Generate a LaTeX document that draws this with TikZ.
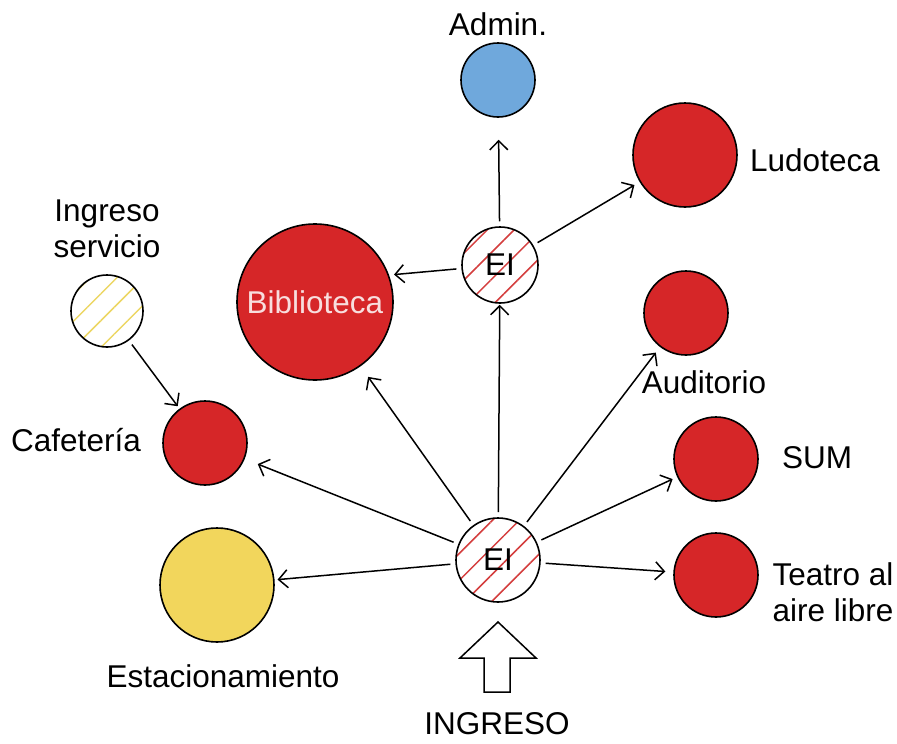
\documentclass[tikz,border=0pt]{standalone}
\usepackage{fontspec}
\setmainfont{Liberation Sans}
\usetikzlibrary{arrows.meta,patterns.meta}
\definecolor{zred}{RGB}{214,38,40}
\definecolor{zblue}{RGB}{111,168,220}
\definecolor{zyellow}{RGB}{242,214,92}
\definecolor{hatchred}{RGB}{212,62,62}
\definecolor{hatchyellow}{RGB}{236,214,100}
\definecolor{pinktext}{RGB}{248,222,222}
\begin{document}
\begin{tikzpicture}[x=1pt, y=-1pt,
  zone/.style={circle, draw, line width=1.6pt, inner sep=0pt},
  redzone/.style={zone, fill=zred},
  hub/.style={zone, pattern={Lines[angle=45,distance=19pt,line width=1.5pt]},
    pattern color=hatchred, font=\fontsize{31.5}{36}\selectfont},
  lbl/.style={font=\fontsize{31.5}{36}\selectfont, align=center, inner sep=0pt},
  arr/.style={-{Straight Barb[length=9pt,width=18pt]}, line width=1.5pt, shorten <=5pt},
]
  \useasboundingbox (0,0) rectangle (897,744);
  % circles
  \node[zone, fill=zblue, minimum size=74pt] (adm) at (498,80) {};
  \node[redzone, minimum size=104pt] (lud) at (685,155) {};
  \node[hub, minimum size=76pt] (eit) at (500,265) {EI};
  \node[redzone, minimum size=156pt, text=pinktext, font=\fontsize{31.5}{36}\selectfont] (bib) at (315,302) {Biblioteca};
  \node[zone, minimum size=72pt, pattern={Lines[angle=45,distance=19pt,line width=1.5pt]},
    pattern color=hatchyellow] (ing) at (107,311) {};
  \node[redzone, minimum size=84pt] (aud) at (686,313) {};
  \node[redzone, minimum size=84pt] (caf) at (205,443) {};
  \node[redzone, minimum size=84pt] (sum) at (716,459) {};
  \node[hub, minimum size=84pt] (eib) at (498,560) {EI};
  \node[zone, fill=zyellow, minimum size=114pt] (est) at (217,585) {};
  \node[redzone, minimum size=84pt] (tea) at (716,575) {};
  % labels
  \node[lbl] (admL) at (498,24) {Admin.};
  \node[lbl] (ludL) at (815,160) {Ludoteca};
  \node[lbl] (ingL) at (107,229) {Ingreso\\servicio};
  \node[lbl] (audL) at (704,382) {Auditorio};
  \node[lbl] (cafL) at (76,440) {Cafetería};
  \node[lbl] (sumL) at (817,458) {SUM};
  \node[lbl] (teaL) at (833,592) {Teatro al\\aire libre};
  \node[lbl] (estL) at (223,676) {Estacionamiento};
  \node[lbl] (ingrL) at (497,724) {INGRESO};
  % entrance arrow
  \draw[line width=1.5pt, line join=miter] (484,692) -- (484,658) -- (460,658) -- (498,622)
    -- (536,658) -- (510,658) -- (510,692) -- cycle;
  % connectors
  \draw[arr, shorten >=1pt] (eib) -- (eit);
  \draw[arr, shorten >=13pt] (eib) -- (bib);
  \draw[arr, shorten >=14pt] (eib) -- (caf);
  \draw[arr, shorten >=3pt] (eib) -- (est);
  \draw[arr, shorten >=7pt] (eib) -- (aud);
  \draw[arr, shorten >=5pt] (eib) -- (sum);
  \draw[arr, shorten >=8pt] (eib) -- (tea);
  \draw[arr, shorten >=22pt] (eit) -- (adm);
  \draw[arr, shorten >=6pt] (eit) -- (lud);
  \draw[arr, shorten >=5pt] (eit) -- (bib.20);
  \draw[arr, shorten >=3pt] (ing) -- (caf);
\end{tikzpicture}
\end{document}
